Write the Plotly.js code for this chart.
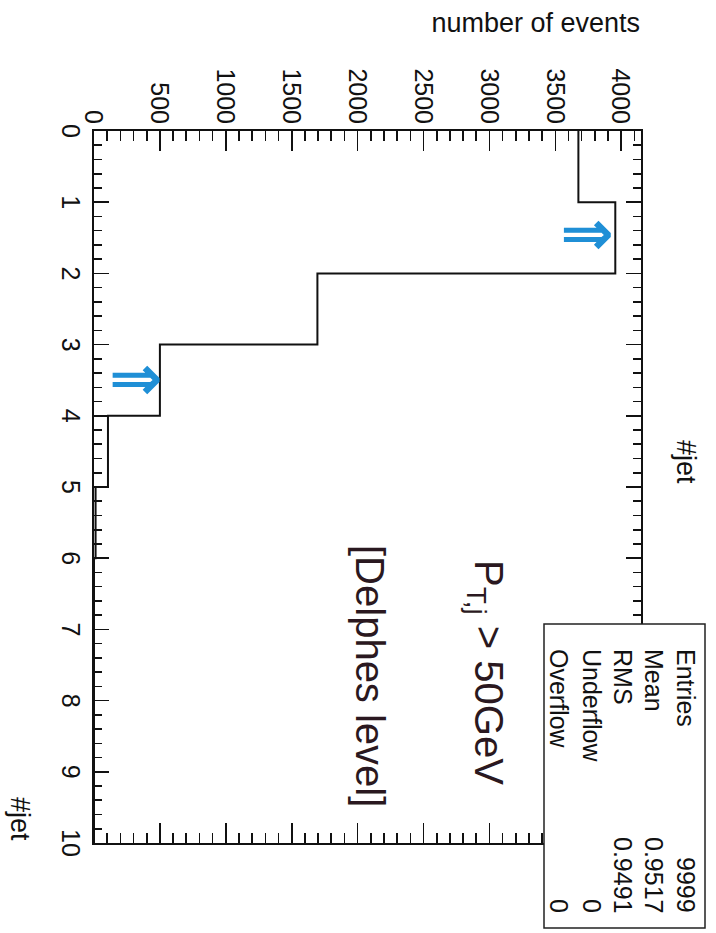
<!DOCTYPE html>
<html>
<head>
<meta charset="utf-8">
<script src="https://cdn.plot.ly/plotly-3.0.1.min.js"></script>
<style>
  html, body { margin: 0; padding: 0; background: #ffffff; overflow: hidden; width: 716px; height: 933px; }
  #plot { position: absolute; left: 0; top: 0; width: 933px; height: 716px;
          transform-origin: 0 0; transform: translate(716px, 0) rotate(90deg); }
</style>
</head>
<body>
<div id="plot"></div>
<script>
// ---- data ----
const binEdges = [0, 1, 2, 3, 4, 5, 6, 7, 8, 9, 10];
const binCounts = [3675, 3955, 1695, 500, 106, 12, 0, 0, 0, 0];
const xTickVals = [0, 1, 2, 3, 4, 5, 6, 7, 8, 9, 10];
const yTickVals = [0, 500, 1000, 1500, 2000, 2500, 3000, 3500, 4000];
const statLabels = ["Entries", "Mean", "RMS", "Underflow", "Overflow"];
const statValues = ["9999", "0.9517", "0.9491", "0", "0"];
const histTitle = "#jet";
const xTitle = "#jet";
const yTitle = "number of events";
const noteLine1 = "P<sub>T,j</sub> > 50GeV";
const noteLine2 = "[Delphes level]";
const arrowMarks = [{jet: 1.43, events: 3740}, {jet: 3.47, events: 320}];

// ---- layout geometry (unrotated canvas 933 x 716) ----
const W = 933, H = 716;
const M = {l: 131, r: 90, t: 75, b: 94};
const PW = W - M.l - M.r, PH = H - M.t - M.b;
const px2x = px => (px - M.l) / PW;
const px2y = py => (H - M.b - py) / PH;

const FONT = "Liberation Sans, Arial, sans-serif";

const stepX = binEdges.slice();
const stepY = binCounts.concat([binCounts[binCounts.length - 1]]);

const traces = [{
  type: "scatter", mode: "lines",
  x: stepX, y: stepY,
  line: {shape: "hv", color: "#111111", width: 2},
  hoverinfo: "skip", showlegend: false, cliponaxis: false
}];

const annotations = [];
annotations.push({xref: "paper", yref: "paper", x: px2x(22), y: px2y(73),
  xanchor: "center", yanchor: "top", textangle: -90, showarrow: false,
  text: yTitle, font: {family: FONT, size: 27, color: "#111"}});
annotations.push({xref: "paper", yref: "paper", x: px2x(843), y: px2y(696),
  xanchor: "right", yanchor: "middle", showarrow: false,
  text: xTitle, font: {family: FONT, size: 27, color: "#111"}});
annotations.push({xref: "paper", yref: "paper", x: px2x(462), y: px2y(30),
  xanchor: "center", yanchor: "middle", showarrow: false,
  text: histTitle, font: {family: FONT, size: 27, color: "#111"}});

const rowY = [30, 62, 93, 124, 157];
statLabels.forEach((s, i) => {
  annotations.push({xref: "paper", yref: "paper", x: px2x(647), y: px2y(rowY[i]),
    xanchor: "left", yanchor: "middle", showarrow: false,
    text: s, font: {family: FONT, size: 25, color: "#111"}});
  annotations.push({xref: "paper", yref: "paper", x: px2x(915), y: px2y(rowY[i]),
    xanchor: "right", yanchor: "middle", showarrow: false,
    text: statValues[i], font: {family: FONT, size: 25, color: "#111"}});
});

annotations.push({xref: "paper", yref: "paper", x: px2x(558), y: px2y(230),
  xanchor: "left", yanchor: "middle", showarrow: false,
  text: noteLine1, font: {family: FONT, size: 40, color: "#2a1820"}});
annotations.push({xref: "paper", yref: "paper", x: px2x(543), y: px2y(346),
  xanchor: "left", yanchor: "middle", showarrow: false,
  text: noteLine2, font: {family: FONT, size: 40, color: "#2a1820"}});

arrowMarks.forEach(a => {
  annotations.push({xref: "x", yref: "y", x: a.jet, y: a.events,
    xanchor: "center", yanchor: "middle", showarrow: false, textangle: -90,
    text: "<b>⇒</b>", font: {family: "DejaVu Sans", size: 64, color: "#1f8fd6"}});
});

const shapes = [{
  type: "rect", xref: "paper", yref: "paper", layer: "above",
  x0: px2x(624), x1: px2x(928), y0: px2y(172), y1: px2y(11),
  line: {color: "#222", width: 1.5}, fillcolor: "#ffffff"
}];

const layout = {
  width: W, height: H,
  margin: M,
  paper_bgcolor: "#ffffff", plot_bgcolor: "#ffffff",
  showlegend: false,
  xaxis: {
    range: [0, 10], tickvals: xTickVals, ticktext: xTickVals.map(String),
    ticks: "inside", ticklen: 15, tickwidth: 1.6, tickcolor: "#111",
    minor: {ticks: "inside", dtick: 0.2, ticklen: 8, tickwidth: 1.6, tickcolor: "#111", showgrid: false},
    showline: true, linewidth: 2, linecolor: "#111", mirror: "allticks",
    showgrid: false, zeroline: false,
    tickfont: {family: FONT, size: 25, color: "#111"}
  },
  yaxis: {
    range: [0, 4150], tickvals: yTickVals, ticktext: yTickVals.map(String),
    ticks: "inside", ticklen: 20, tickwidth: 1.6, tickcolor: "#111",
    minor: {ticks: "inside", dtick: 100, ticklen: 10, tickwidth: 1.6, tickcolor: "#111", showgrid: false},
    showline: true, linewidth: 2, linecolor: "#111", mirror: "allticks",
    showgrid: false, zeroline: false,
    tickfont: {family: FONT, size: 25, color: "#111"}
  },
  annotations: annotations,
  shapes: shapes
};

Plotly.newPlot("plot", traces, layout, {staticPlot: true, displayModeBar: false});
</script>
</body>
</html>
